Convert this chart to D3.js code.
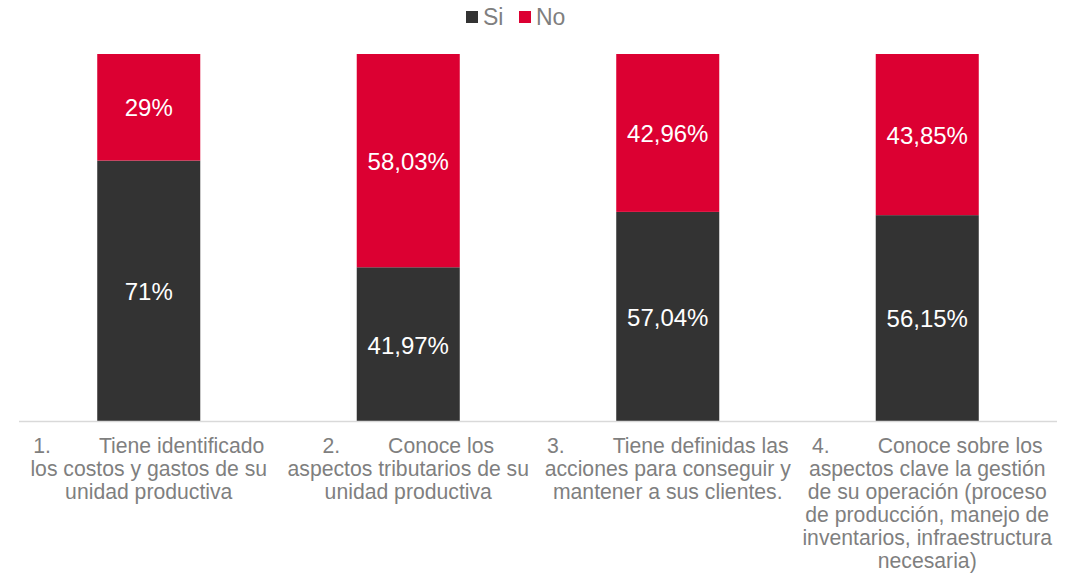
<!DOCTYPE html>
<html>
<head>
<meta charset="utf-8">
<script src="https://cdn.jsdelivr.net/npm/d3@7"></script>
<style>
  html, body { margin: 0; padding: 0; background: #ffffff; }
  svg { display: block; font-family: "Liberation Sans", Arial, sans-serif; }
</style>
</head>
<body>
<svg id="chart" width="1081" height="583"></svg>
<script>
// ---- data ----
const categories = ["c1", "c2", "c3", "c4"];
const categoryNumbers = ["1.", "2.", "3.", "4."];
const categoryLines = [
  ["Tiene identificado", "los costos y gastos de su", "unidad productiva"],
  ["Conoce los", "aspectos tributarios de su", "unidad productiva"],
  ["Tiene definidas las", "acciones para conseguir y", "mantener a sus clientes."],
  ["Conoce sobre los", "aspectos clave la gestión", "de su operación (proceso", "de producción, manejo de", "inventarios, infraestructura", "necesaria)"]
];
const seriesNames = ["Si", "No"];
const siValues = [71, 41.97, 57.04, 56.15];
const noValues = [29, 58.03, 42.96, 43.85];
const seriesColors = ["#333333", "#dc0032"];

// ---- layout ----
const svg = d3.select("#chart");
const plot = { left: 19, right: 1057, top: 54, bottom: 421.5 };

const x = d3.scaleBand()
  .domain(categories)
  .range([plot.left, plot.right])
  .paddingInner(0.603)
  .paddingOuter(0.3015);

const y = d3.scaleLinear().domain([0, 100]).range([plot.bottom, plot.top]);

const rows = categories.map((c, i) => ({ cat: c, Si: siValues[i], No: noValues[i] }));
const stack = d3.stack().keys(seriesNames)(rows);

const fmt = v => (Number.isInteger(v) ? String(v) : v.toFixed(2).replace(".", ",")) + "%";

const layers = svg.append("g").selectAll("g")
  .data(stack).join("g")
  .attr("fill", (d, i) => seriesColors[i]);

layers.selectAll("rect")
  .data(d => d).join("rect")
  .attr("x", d => x(d.data.cat))
  .attr("width", x.bandwidth())
  .attr("y", d => y(d[1]))
  .attr("height", d => y(d[0]) - y(d[1]));

layers.selectAll("text")
  .data(d => d.map(p => ({ p, key: d.key }))).join("text")
  .attr("x", d => x(d.p.data.cat) + x.bandwidth() / 2)
  .attr("y", d => (y(d.p[0]) + y(d.p[1])) / 2)
  .attr("dy", "0.38em")
  .attr("text-anchor", "middle")
  .attr("fill", "#ffffff")
  .attr("font-size", 24)
  .text(d => fmt(d.p.data[d.key]));

// baseline axis
svg.append("line")
  .attr("x1", plot.left).attr("x2", plot.right)
  .attr("y1", plot.bottom).attr("y2", plot.bottom)
  .attr("stroke", "#d9d9d9").attr("stroke-width", 1.5);

// category labels
const labelG = svg.append("g")
  .attr("fill", "#7f7f7f")
  .attr("font-size", 21.2)
  .attr("text-anchor", "middle");

categories.forEach((c, i) => {
  const cx = x(c) + x.bandwidth() / 2;
  const t = labelG.append("text").attr("x", cx).attr("y", 453);
  t.append("tspan").text(categoryNumbers[i]);
  t.append("tspan").attr("dx", 48).text(categoryLines[i][0]);
  categoryLines[i].slice(1).forEach((line, j) => {
    labelG.append("text")
      .attr("x", cx)
      .attr("y", 453 + (j + 1) * 23)
      .text(line);
  });
});

// legend
const legend = svg.append("g").attr("font-size", 23).attr("fill", "#7f7f7f");
const legendItems = [{ name: seriesNames[0], color: seriesColors[0], x: 466 }, { name: seriesNames[1], color: seriesColors[1], x: 519 }];
legendItems.forEach(it => {
  legend.append("rect").attr("x", it.x).attr("y", 11).attr("width", 12).attr("height", 12).attr("fill", it.color);
  legend.append("text").attr("x", it.x + 17).attr("y", 25).text(it.name);
});
</script>
</body>
</html>
